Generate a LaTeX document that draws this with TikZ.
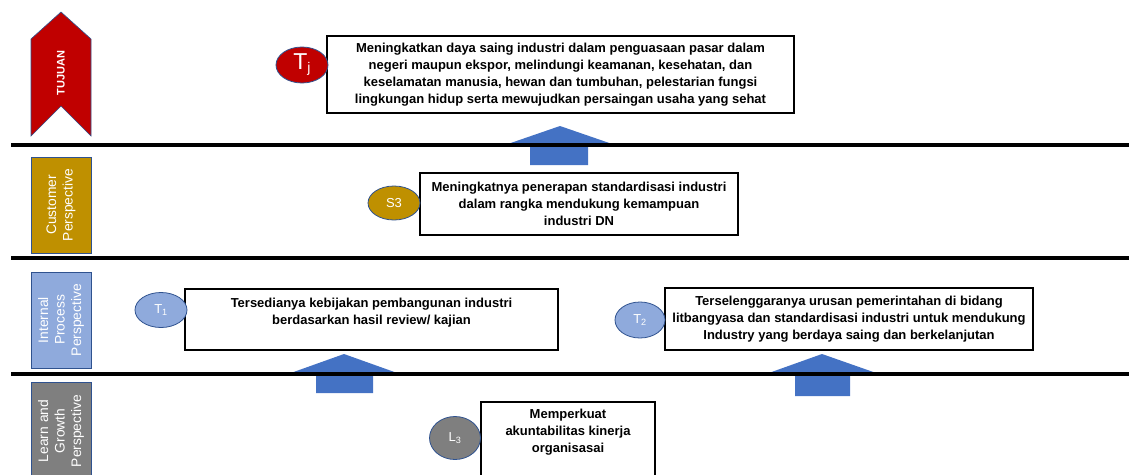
\documentclass[tikz,border=0pt]{standalone}
\usepackage{fontspec}
\setmainfont{Liberation Sans}
\usepackage{tikz}
\usetikzlibrary{shapes.geometric}
\definecolor{goalred}{HTML}{C00000}
\definecolor{custgold}{HTML}{BF9000}
\definecolor{procblue}{HTML}{8FAADC}
\definecolor{learngrey}{HTML}{7F7F7F}
\definecolor{liftblue}{HTML}{4472C4}
\definecolor{rimblue}{HTML}{2F528F}
\newcommand{\boxfont}{\bfseries\fontsize{13}{17}\selectfont}
\newcommand{\sidefont}{\fontsize{13.8}{16.5}\selectfont}

\begin{document}
\begin{tikzpicture}[x=1pt,y=-1pt,
  goal box/.style={draw,line width=1.6pt,fill=white,align=center,font=\boxfont,inner xsep=3pt,inner ysep=2pt},
  code node/.style={ellipse,draw=rimblue,line width=0.8pt,inner sep=0pt,text=white,font=\fontsize{13}{13}\selectfont},
  side box/.style={draw=rimblue,line width=0.6pt,text=white,rotate=90,align=center,inner sep=0pt,minimum height=60,font=\sidefont},
  lift/.style={fill=liftblue}]
\useasboundingbox (0,0) rectangle (1129,474);
\clip (0,0) rectangle (1129,474);

\filldraw[fill=goalred,draw=rimblue,line width=0.6pt]
  (31,39) -- (61,12) -- (91,39) -- (91,136) -- (61,106) -- (31,136) -- cycle;
\node[text=white,rotate=90,font=\bfseries\fontsize{11}{11}\selectfont](tujuan) at (61,73) {TUJUAN};
\node[side box,fill=custgold,minimum width=96](cust) at (61,205) {Customer\\Perspective};
\node[side box,fill=procblue,minimum width=96](proc) at (61,320) {Internal\\Process\\Perspective};
\node[side box,fill=learngrey,minimum width=98](learn) at (61,431) {Learn and\\Growth\\Perspective};

\fill[lift] (560,126) -- (618,146) -- (588,146) -- (588,165) -- (530,165) -- (530,146) -- (502,146) -- cycle;
\fill[lift] (344,354) -- (400,374) -- (373,374) -- (373,393) -- (316,393) -- (316,374) -- (288,374) -- cycle;
\fill[lift] (822,354) -- (879,374) -- (850,374) -- (850,396) -- (795,396) -- (795,374) -- (766,374) -- cycle;

\foreach \ly in {145,258,374}
  \draw[line width=4pt] (11,\ly) -- (1129,\ly);

\node[goal box,minimum width=467,minimum height=77](tjbox) at (560.5,74.5) {Meningkatkan daya saing industri dalam penguasaan pasar dalam\\negeri maupun ekspor, melindungi keamanan, kesehatan, dan\\keselamatan manusia, hewan dan tumbuhan, pelestarian fungsi\\lingkungan hidup serta mewujudkan persaingan usaha yang sehat};
\node[goal box,minimum width=318,minimum height=62](s3box) at (579,204) {Meningkatnya penerapan standardisasi industri\\dalam rangka mendukung kemampuan\\industri DN};
\node[goal box,minimum width=373,minimum height=61](t1box) at (371.5,319.5) {Tersedianya kebijakan pembangunan industri\\berdasarkan hasil review/ kajian\\\mbox{}};
\node[goal box,minimum width=368,minimum height=62](t2box) at (849,319) {Terselenggaranya urusan pemerintahan di bidang\\litbangyasa dan standardisasi industri untuk mendukung\\Industry yang berdaya saing dan berkelanjutan};
\node[goal box,minimum width=174,inner ysep=7pt,anchor=north](l3box) at (568,401) {Memperkuat\\akuntabilitas kinerja\\organisasai\\\mbox{}\\\mbox{}};

\node[code node,fill=goalred,minimum width=52,minimum height=36,font=\fontsize{23}{23}\selectfont](Tj) at (302,65) {T\raisebox{-3pt}{\fontsize{14}{14}\selectfont j}};
\node[code node,fill=custgold,minimum width=52,minimum height=34](S3) at (394,203) {S3};
\node[code node,fill=procblue,minimum width=52,minimum height=35](T1) at (161,310) {T\textsubscript{1}};
\node[code node,fill=procblue,minimum width=50,minimum height=36](T2) at (640,320) {T\textsubscript{2}};
\node[code node,fill=learngrey,minimum width=51,minimum height=43](L3) at (455,438) {L\textsubscript{3}};
\end{tikzpicture}
\end{document}
